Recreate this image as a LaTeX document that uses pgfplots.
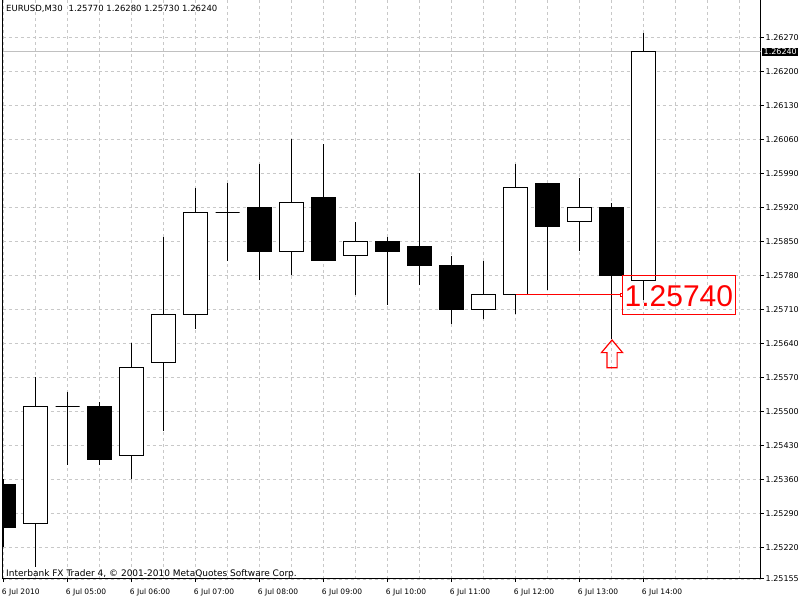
\documentclass[border=0pt]{standalone}
\usepackage{fontspec}
\setmainfont{DejaVu Sans}
\newfontfamily\bigfont{Liberation Sans}
\usepackage{pgfplots}
\usepackage{pgfplotstable}
\pgfplotsset{compat=1.18}
\definecolor{gridgray}{RGB}{200,200,200}
\definecolor{bidgray}{RGB}{192,192,192}
\definecolor{mtred}{RGB}{255,0,0}

% EURUSD M30 candles, k = bar index (04:00 = 0)
\pgfplotstableread{
k  O      H      L      C
0  1.2535 1.2536 1.2522 1.2526
1  1.2527 1.2557 1.2518 1.2551
2  1.2551 1.2554 1.2539 1.2551
3  1.2551 1.2552 1.2539 1.2540
4  1.2541 1.2564 1.2536 1.2559
5  1.2560 1.2586 1.2546 1.2570
6  1.2570 1.2596 1.2567 1.2591
7  1.2591 1.2597 1.2581 1.2591
8  1.2592 1.2601 1.2577 1.2583
9  1.2583 1.2606 1.2578 1.2593
10 1.2594 1.2605 1.2581 1.2581
11 1.2582 1.2589 1.2574 1.2585
12 1.2585 1.2586 1.2572 1.2583
13 1.2584 1.2599 1.2576 1.2580
14 1.2580 1.2582 1.2568 1.2571
15 1.2571 1.2581 1.2569 1.2574
16 1.2574 1.2601 1.2570 1.2596
17 1.2597 1.2597 1.2575 1.2588
18 1.2589 1.2598 1.2583 1.2592
19 1.2592 1.2593 1.2565 1.2578
20 1.2577 1.2628 1.2573 1.2624
}\candles

\begin{document}
\begin{tikzpicture}
\useasboundingbox (0,0) rectangle (800bp,600bp);
\begin{axis}[
  at={(2.5bp,21bp)},anchor=south west,
  scale only axis,width=758bp,height=579bp,
  xmin=-0.0375,xmax=23.65,ymin=1.25155,ymax=1.26347,
  axis x line*=bottom,axis y line*=right,
  axis line style={black,line width=1bp},
  tick align=outside,major tick length=3bp,minor tick length=0pt,
  tick style={black,line width=1bp},
  xtick={0,2,...,20},
  xticklabels={6 Jul 2010,6 Jul 05:00,6 Jul 06:00,6 Jul 07:00,6 Jul 08:00,6 Jul 09:00,6 Jul 10:00,6 Jul 11:00,6 Jul 12:00,6 Jul 13:00,6 Jul 14:00},
  minor xtick={1,3,5,7,9,11,13,15,17,19,21,22,23},
  ytick={1.25155,1.2522,1.2529,1.2536,1.2543,1.255,1.2557,1.2564,1.2571,1.2578,1.2585,1.2592,1.2599,1.2606,1.2613,1.262,1.2627},
  yticklabels={1.25155,1.25220,1.25290,1.25360,1.25430,1.25500,1.25570,1.25640,1.25710,1.25780,1.25850,1.25920,1.25990,1.26060,1.26130,1.26200,1.26270},
  xticklabel style={font=\fontsize{7.5bp}{8bp}\selectfont,anchor=base west,inner sep=0pt,xshift=-2bp,yshift=-12.5bp},
  yticklabel style={font=\fontsize{8bp}{9bp}\selectfont,anchor=west,inner sep=0pt,xshift=2bp},
  xmajorgrids,xminorgrids,ymajorgrids,
  grid style={gridgray,line width=0.8bp,dash pattern=on 3bp off 3bp},
  minor grid style={gridgray,line width=0.8bp,dash pattern=on 3bp off 3bp},
]
  % bid line
  \addplot[bidgray,line width=1bp] coordinates {(-0.0375,1.2624) (23.65,1.2624)};
  \pgfplotsforeachungrouped \i in {0,...,20}{
    \pgfplotstablegetelem{\i}{O}\of\candles \let\vo\pgfplotsretval
    \pgfplotstablegetelem{\i}{H}\of\candles \let\vh\pgfplotsretval
    \pgfplotstablegetelem{\i}{L}\of\candles \let\vl\pgfplotsretval
    \pgfplotstablegetelem{\i}{C}\of\candles \let\vc\pgfplotsretval
    \pgfmathsetmacro\xa{\i-0.375}
    \pgfmathsetmacro\xb{\i+0.375}
    \ifdim\vc pt<\vo pt \def\bodyfill{black}\else\def\bodyfill{white}\fi
    \edef\temp{\noexpand\addplot[black,line width=1bp] coordinates {(\i,\vl) (\i,\vh)};
      \noexpand\addplot[draw=black,fill=\bodyfill,line width=1bp] coordinates {(\xa,\vo) (\xb,\vo) (\xb,\vc) (\xa,\vc)} -- cycle;}
    \temp
  }
  % price label object at 1.25740
  \addplot[mtred,line width=1.3bp] coordinates {(16,1.2574) (19.27,1.2574)};
  \addplot[mtred,only marks,mark=square,mark size=1.1bp,mark options={line width=0.8bp}] coordinates {(19.31,1.2574)};
  \addplot[mtred,line width=0.9bp] coordinates {(19.33,1.25700) (22.875,1.25700) (22.875,1.25779) (19.33,1.25779)} -- cycle;
  \node[mtred,font=\bigfont\fontsize{30bp}{30bp}\selectfont,inner sep=0pt] at (axis cs:21.1,1.25738) {1.25740};
  % up arrow below bar 19
  \addplot[mtred,line width=1.2bp] coordinates {(19.01,1.25647) (19.34,1.25621) (19.17,1.25621) (19.17,1.25590) (18.85,1.25590) (18.85,1.25621) (18.68,1.25621)} -- cycle;
\end{axis}
\draw[black,line width=1bp] (2.5bp,21bp) -- (2.5bp,600bp);
\node[anchor=base west,inner sep=0pt,font=\fontsize{8.5bp}{9bp}\selectfont] at (6bp,588bp) {EURUSD,M30\hspace{0.7em}1.25770 1.26280 1.25730 1.26240};
\node[anchor=base west,inner sep=0pt,font=\fontsize{9bp}{10bp}\selectfont] at (6bp,23.5bp) {Interbank FX Trader 4, © 2001-2010 MetaQuotes Software Corp.};
\node[anchor=west,fill=black,text=white,inner xsep=1.5bp,inner ysep=1bp,font=\fontsize{8bp}{9bp}\selectfont] at (762bp,548bp) {1.26240};
\end{tikzpicture}
\end{document}
